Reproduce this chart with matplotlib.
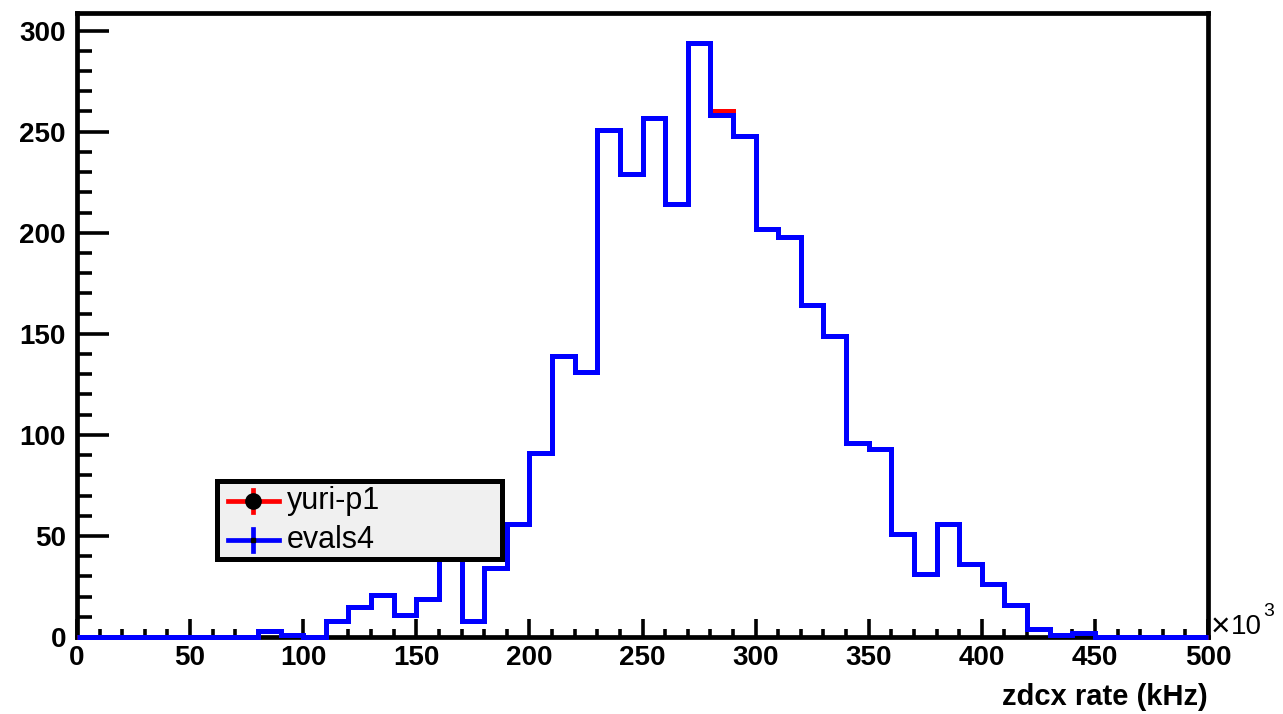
import matplotlib
matplotlib.use("Agg")
import matplotlib.pyplot as plt
from matplotlib.patches import Rectangle
from matplotlib.lines import Line2D
import numpy as np

# Histogram binning (units of 10^3 kHz)
bin_edges = list(range(0, 510, 10))

# Bin contents for the two samples
evals4 = [0, 0, 0, 0, 0, 0, 0, 0, 3, 1,
          0, 8, 15, 21, 11, 19, 44, 8, 34, 56,
          91, 139, 131, 251, 229, 257, 214, 294, 258, 248,
          202, 198, 164, 149, 96, 93, 51, 31, 56, 36,
          26, 16, 4, 1, 2, 0, 0, 0, 0, 0]
yuri_p1 = [0, 0, 0, 0, 0, 0, 0, 0, 3, 1,
           0, 8, 15, 21, 11, 19, 44, 8, 34, 56,
           91, 139, 131, 251, 229, 257, 214, 294, 260, 248,
           202, 198, 164, 149, 96, 93, 51, 31, 56, 36,
           26, 16, 4, 1, 2, 0, 0, 0, 0, 0]

x_ticks = [0, 50, 100, 150, 200, 250, 300, 350, 400, 450, 500]
y_ticks = [0, 50, 100, 150, 200, 250, 300]
series_names = ["yuri-p1", "evals4"]
x_title = "zdcx rate (kHz)"

plt.rcParams['font.family'] = ['Liberation Sans', 'DejaVu Sans']

W, H = 1283, 714
fig = plt.figure(figsize=(W / 100, H / 100), dpi=100)
ax = fig.add_axes([77 / W, 77 / H, (1208 - 77) / W, (637 - 13) / H])

ymax = 1.05 * max(max(evals4), max(yuri_p1))
ax.set_xlim(0, 500)
ax.set_ylim(0, ymax)

ax.stairs(yuri_p1, bin_edges, color='#ff0000', lw=3.6, zorder=5, clip_on=False)
ax.stairs(evals4, bin_edges, color='#0000ff', lw=3.6, zorder=6, clip_on=False)

for s in ax.spines.values():
    s.set_linewidth(3.4)
    s.set_zorder(4)

ax.set_xticks(x_ticks)
ax.set_xticks(np.arange(0, 501, 10), minor=True)
ax.set_yticks(y_ticks)
ax.set_yticks(np.arange(0, 301, 10), minor=True)
ax.tick_params(axis='both', which='both', direction='in', width=2.6, color='black',
               top=False, right=False)
ax.tick_params(axis='y', which='major', length=23, pad=8)
ax.tick_params(axis='y', which='minor', length=11)
ax.tick_params(axis='x', which='major', length=13, pad=6)
ax.tick_params(axis='x', which='minor', length=6)
for lab in ax.get_xticklabels() + ax.get_yticklabels():
    lab.set_fontweight('bold')
    lab.set_fontsize(20)

# Axis title, right-aligned with the end of the axis
fig.text(1208 / W, 1 - 697 / H, x_title, ha='right', va='center',
         fontsize=21, fontweight='bold')
# Exponent factor of the x axis
fig.text(1211 / W, 1 - 627 / H, "\u00d7", ha='left', va='center', fontsize=24)
fig.text(1231 / W, 1 - 627 / H, "10", ha='left', va='center', fontsize=20)
fig.text(1263 / W, 1 - 612 / H, "3", ha='left', va='center', fontsize=14)

# Legend box
lx0, lx1, ly0, ly1 = 217, 502, 481, 559
fig.patches.append(Rectangle((lx0 / W, 1 - ly1 / H), (lx1 - lx0) / W, (ly1 - ly0) / H,
                             transform=fig.transFigure, facecolor='#f0f0f0', edgecolor='black',
                             lw=3.6, zorder=10))

entries = [(series_names[0], '#ff0000', 'o', 501), (series_names[1], '#0000ff', None, 540)]
for name, col, mk, yc in entries:
    yf = 1 - yc / H
    fig.lines.append(Line2D([228 / W, 279 / W], [yf, yf], transform=fig.transFigure,
                            color=col, lw=3.4, zorder=11))
    fig.lines.append(Line2D([253 / W, 253 / W], [yf - 11 / H, yf + 11 / H], transform=fig.transFigure,
                            color=col, lw=3.4, zorder=11))
    if mk:
        fig.lines.append(Line2D([253 / W], [yf], transform=fig.transFigure, marker='o',
                                markersize=11, color='black', lw=0, zorder=12))
    else:
        fig.lines.append(Line2D([253 / W], [yf], transform=fig.transFigure, marker='s',
                                markersize=3, color='black', lw=0, zorder=12))
    fig.text(287 / W, yf, name, ha='left', va='center', fontsize=22, zorder=12)

fig.savefig("out.png", dpi=100)
